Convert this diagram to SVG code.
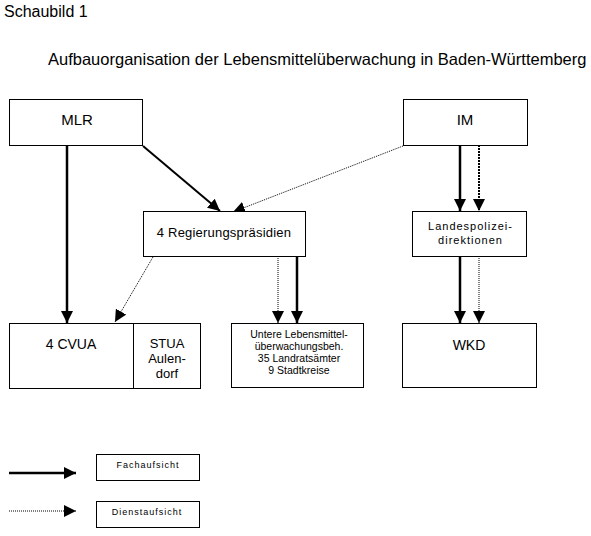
<svg xmlns="http://www.w3.org/2000/svg" width="591" height="536" viewBox="0 0 591 536">
<style>
text{font-family:"Liberation Sans",Arial,sans-serif;fill:#000}
.box{fill:#fff;stroke:#000;stroke-width:1}
.c{text-anchor:middle}
.solid{stroke:#000;stroke-width:2.5;fill:none}
.dot{stroke:#000;stroke-width:1;stroke-dasharray:1 1;fill:none}
.dot2{stroke:#000;stroke-width:2;stroke-dasharray:2 1;fill:none}
</style>
<defs>
<marker id="ah" markerUnits="userSpaceOnUse" markerWidth="12" markerHeight="12" refX="12" refY="6" orient="auto" viewBox="0 0 12 12">
<path d="M0,0 L12,6 L0,12 z" fill="#000"/>
</marker>
</defs>
<rect width="591" height="536" fill="#fff"/>
<text x="4" y="17" font-size="16">Schaubild 1</text>
<text x="48" y="65" font-size="16.5">Aufbauorganisation der Lebensmittelüberwachung in Baden-Württemberg</text>

<g id="connectors">
<path class="solid" d="M67,145 V323" marker-end="url(#ah)"/>
<path class="solid" style="stroke-width:2" d="M143,146 L220,211" marker-end="url(#ah)"/>
<path class="dot" d="M403,146 L233,212" marker-end="url(#ah)"/>
<path class="solid" d="M460,145 V211" marker-end="url(#ah)"/>
<path class="dot2" d="M479,145 V211" marker-end="url(#ah)"/>
<path class="dot" d="M153,257 L115,322" marker-end="url(#ah)"/>
<path class="dot" d="M278,256 V323" marker-end="url(#ah)"/>
<path class="solid" d="M297,256 V323" marker-end="url(#ah)"/>
<path class="solid" d="M460,256 V323" marker-end="url(#ah)"/>
<path class="dot" d="M479,256 V323" marker-end="url(#ah)"/>
<path class="solid" d="M9,473 H76" marker-end="url(#ah)"/>
<path class="dot" d="M9,511 H76" marker-end="url(#ah)"/>
</g>

<g id="mlr">
<rect class="box" x="9.5" y="99.5" width="133" height="46"/>
<text class="c" x="77" y="125" font-size="15">MLR</text>
</g>
<g id="im">
<rect class="box" x="403.5" y="99.5" width="124" height="46"/>
<text class="c" x="465" y="125" font-size="15">IM</text>
</g>
<g id="rp">
<rect class="box" x="143.5" y="211.5" width="162" height="45"/>
<text class="c" x="224" y="237" font-size="13" letter-spacing="0.2">4 Regierungspräsidien</text>
</g>
<g id="lpd">
<rect class="box" x="412.5" y="211.5" width="114" height="45"/>
<text class="c" x="470.5" y="230" font-size="11" letter-spacing="1">Landespolizei-</text>
<text class="c" x="470.5" y="244" font-size="11" letter-spacing="1">direktionen</text>
</g>
<g id="cvua">
<rect class="box" x="9.5" y="323.5" width="124" height="65"/>
<text class="c" x="71" y="349" font-size="14">4 CVUA</text>
</g>
<g id="stua">
<rect class="box" x="133.5" y="323.5" width="67" height="65"/>
<text class="c" x="167" y="348" font-size="13">STUA</text>
<text class="c" x="167" y="363" font-size="13">Aulen-</text>
<text class="c" x="167" y="378" font-size="13">dorf</text>
</g>
<g id="untere">
<rect class="box" x="231.5" y="323.5" width="132" height="64"/>
<text class="c" x="299" y="338" font-size="10.5">Untere Lebensmittel-</text>
<text class="c" x="299" y="350" font-size="10.5">überwachungsbeh.</text>
<text class="c" x="299" y="362" font-size="10.5">35 Landratsämter</text>
<text class="c" x="299" y="374" font-size="10.5">9 Stadtkreise</text>
</g>
<g id="wkd">
<rect class="box" x="402.5" y="323.5" width="134" height="64"/>
<text class="c" x="469" y="350" font-size="14">WKD</text>
</g>
<g id="legend-fach">
<rect class="box" x="96.5" y="454.5" width="103" height="26"/>
<text class="c" x="148" y="468" font-size="9" letter-spacing="1">Fachaufsicht</text>
</g>
<g id="legend-dienst">
<rect class="box" x="96.5" y="501.5" width="103" height="26"/>
<text class="c" x="147" y="515" font-size="9" letter-spacing="1">Dienstaufsicht</text>
</g>
</svg>
